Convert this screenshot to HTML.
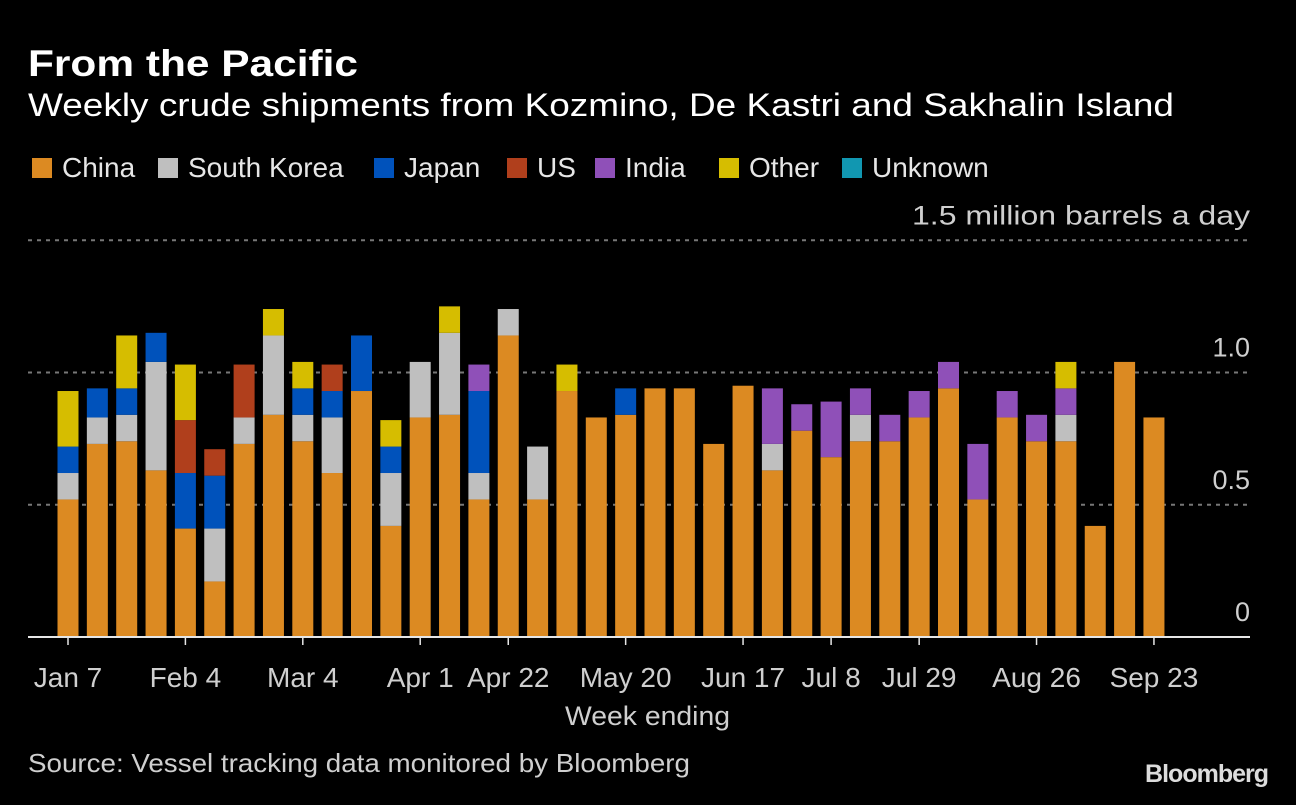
<!DOCTYPE html>
<html><head><meta charset="utf-8"><style>
html,body{margin:0;padding:0;background:#000;}
body{width:1296px;height:800px;overflow:hidden;font-family:"Liberation Sans","DejaVu Sans",sans-serif;color:#e6e6e6;}
</style></head><body>
<svg id="chart" width="1296" height="800" xmlns="http://www.w3.org/2000/svg">
<rect x="0" y="0" width="1296" height="800" fill="#000"/>
<text x="28" y="76" font-size="37" font-weight="bold" fill="#fff" textLength="330" lengthAdjust="spacingAndGlyphs">From the Pacific</text>
<text x="28" y="116" font-size="32" fill="#fff" textLength="1146" lengthAdjust="spacingAndGlyphs">Weekly crude shipments from Kozmino, De Kastri and Sakhalin Island</text>
<g id="legend"></g>
<g id="grid"></g>
<g id="bars"></g>
<g id="xaxis"></g>
<text x="565" y="725" font-size="27" fill="#cfcfcf" textLength="165" lengthAdjust="spacingAndGlyphs">Week ending</text>
<text x="28" y="772" font-size="26" fill="#cfcfcf" textLength="662" lengthAdjust="spacingAndGlyphs">Source: Vessel tracking data monitored by Bloomberg</text>
<text x="1268" y="782" font-size="25" font-weight="bold" fill="#dcdcdc" text-anchor="end" letter-spacing="-1">Bloomberg</text>
</svg>
<script>
const series = ["China","South Korea","Japan","US","India","Other","Unknown"];
const colors = ["#dc8a22","#bfbfbf","#0052bb","#b03f1c","#8f50b8","#d6bd00","#1197b1"];
const china = [0.52,0.73,0.74,0.63,0.41,0.21,0.73,0.84,0.74,0.62,0.93,0.42,0.83,0.84,0.52,1.14,0.52,0.93,0.83,0.84,0.94,0.94,0.73,0.95,0.63,0.78,0.68,0.74,0.74,0.83,0.94,0.52,0.83,0.74,0.74,0.42,1.04,0.83];
const korea = [0.10,0.10,0.10,0.41,0,0.20,0.10,0.30,0.10,0.21,0,0.20,0.21,0.31,0.10,0.10,0.20,0,0,0,0,0,0,0,0.10,0,0,0.10,0,0,0,0,0,0,0.10,0,0,0];
const japan = [0.10,0.11,0.10,0.11,0.21,0.20,0,0,0.10,0.10,0.21,0.10,0,0,0.31,0,0,0,0,0.10,0,0,0,0,0,0,0,0,0,0,0,0,0,0,0,0,0,0];
const us = [0,0,0,0,0.20,0.10,0.20,0,0,0.10,0,0,0,0,0,0,0,0,0,0,0,0,0,0,0,0,0,0,0,0,0,0,0,0,0,0,0,0];
const india = [0,0,0,0,0,0,0,0,0,0,0,0,0,0,0.10,0,0,0,0,0,0,0,0,0,0.21,0.10,0.21,0.10,0.10,0.10,0.10,0.21,0.10,0.10,0.10,0,0,0];
const other = [0.21,0,0.20,0,0.21,0,0,0.10,0.10,0,0,0.10,0,0.10,0,0,0,0.10,0,0,0,0,0,0,0,0,0,0,0,0,0,0,0,0,0.10,0,0,0];
const unknown = new Array(38).fill(0);
const tickIndex = [0,4,8,12,15,19,23,26,29,33,37];
const tickLabels = ["Jan 7","Feb 4","Mar 4","Apr 1","Apr 22","May 20","Jun 17","Jul 8","Jul 29","Aug 26","Sep 23"];
const yTicks = [0,0.5,1.0,1.5];
const yTickLabels = ["0","0.5","1.0","1.5 million barrels a day"];

const NS="http://www.w3.org/2000/svg";
const x0=68, step=29.35, bw=21, yBase=637, yScale=264.5;
const xPos=i=>x0+i*step;
const yPos=v=>yBase-v*yScale;
function mk(tag,attrs,parent){const e=document.createElementNS(NS,tag);for(const k in attrs)e.setAttribute(k,attrs[k]);parent.appendChild(e);return e;}

const lg=document.getElementById('legend');
const lx=[32,158,374,507,595,719,842];
series.forEach((s,i)=>{
  const r=mk('rect',{x:lx[i],y:158,width:20,height:20,fill:colors[i]},lg);
  
  
  const t=mk('text',{x:lx[i]+30,y:177,'font-size':28,fill:'#e6e6e6'},lg);
  t.textContent=s;
  
  
});

const gg=document.getElementById('grid');
yTicks.forEach((v,i)=>{
  const y=yPos(v);
  if(v>0){const l=mk('line',{x1:28,x2:1250,y1:y,y2:y,stroke:'#777','stroke-width':2,'stroke-dasharray':'4 5'},gg);
    
    }
  const attrs={x:1250,y:y-16,'font-size':27,fill:'#cfcfcf','text-anchor':'end'};
  if(i===3){attrs.textLength=338;attrs.lengthAdjust='spacingAndGlyphs';}
  const t=mk('text',attrs,gg);
  t.textContent=yTickLabels[i];
  
  
});

const bg=document.getElementById('bars');
const data=[china,korea,japan,us,india,other,unknown];
china.forEach((_,i)=>{
  let acc=0;
  data.forEach((arr,s)=>{
    const v=arr[i]; if(!v) return;
    const r=mk('rect',{x:xPos(i)-bw/2,y:yPos(acc+v),width:bw,height:v*yScale,fill:colors[s]},bg);
    
    
    acc+=v;
  });
});

const xg=document.getElementById('xaxis');
const bl=mk('line',{x1:28,x2:1250,y1:yBase,y2:yBase,stroke:'#e6e6e6','stroke-width':2},xg);


tickIndex.forEach((ti,k)=>{
  const x=xPos(ti);
  const l=mk('line',{x1:x,x2:x,y1:yBase,y2:yBase+8,stroke:'#e6e6e6','stroke-width':1.5},xg);
  
  
  const t=mk('text',{x:x,y:687,'font-size':28,fill:'#cfcfcf','text-anchor':'middle'},xg);
  t.textContent=tickLabels[k];
  
  
});
</script>
</body></html>
